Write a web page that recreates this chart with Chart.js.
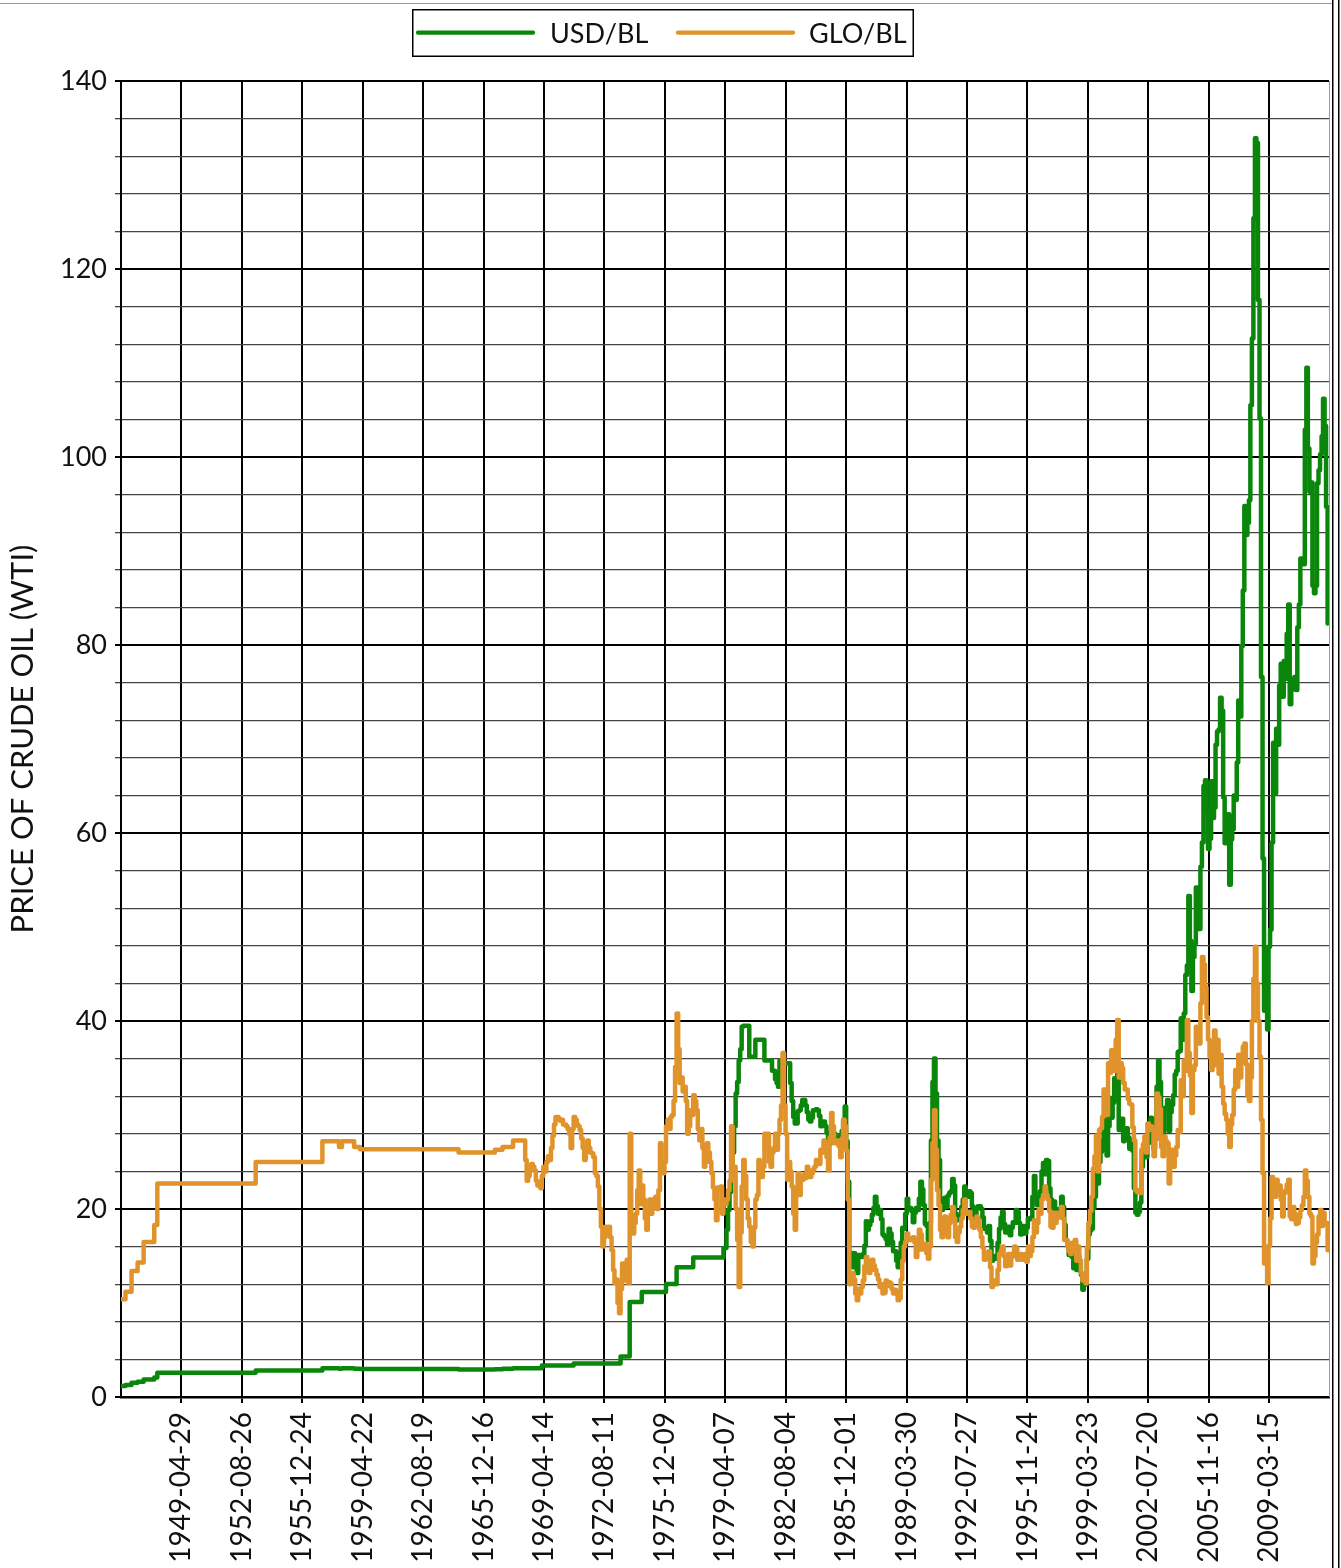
<!DOCTYPE html>
<html>
<head>
<meta charset="utf-8">
<script src="https://cdn.jsdelivr.net/npm/chart.js@4.4.1/dist/chart.umd.min.js"></script>
<style>
html,body{margin:0;padding:0;background:#fff;}
canvas{display:block;}
</style>
</head>
<body>
<canvas id="c" width="1341" height="1568"></canvas>
<script>
const seriesLabels = ['USD/BL', 'GLO/BL'];
const yTitle = 'PRICE OF CRUDE OIL (WTI)';

const tickLabels = ['1949-04-29','1952-08-26','1955-12-24','1959-04-22','1962-08-19','1965-12-16','1969-04-14',
  '1972-08-11','1975-12-09','1979-04-07','1982-08-04','1985-12-01','1989-03-30','1992-07-27','1995-11-24',
  '1999-03-23','2002-07-20','2005-11-16','2009-03-15'];

const dates = [
'1946-01','1946-04','1946-08','1946-12','1947-04','1947-11','1948-01','1953-06','1957-02','1958-01','1958-03','1958-11','1959-03','1964-08','1966-08','1967-01','1967-08',
'1968-01','1968-02','1968-03','1968-04','1968-05','1968-06','1968-07','1968-08','1968-09','1968-10','1968-11','1968-12',
'1969-01','1969-02','1969-03','1969-04','1969-05','1969-06','1969-07','1969-08','1969-09','1969-10','1969-11','1969-12',
'1970-01','1970-02','1970-03','1970-04','1970-05','1970-06','1970-07','1970-08','1970-09','1970-10','1970-11','1970-12',
'1971-01','1971-02','1971-03','1971-04','1971-05','1971-06','1971-07','1971-08','1971-09','1971-10','1971-11','1971-12',
'1972-01','1972-02','1972-03','1972-04','1972-05','1972-06','1972-07','1972-08','1972-09','1972-10','1972-11','1972-12',
'1973-01','1973-02','1973-03','1973-04','1973-05','1973-06','1973-07','1973-08','1973-09','1973-10','1973-11','1973-12',
'1974-01','1974-02','1974-03','1974-04','1974-05','1974-06','1974-07','1974-08','1974-09','1974-10','1974-11','1974-12',
'1975-01','1975-02','1975-03','1975-04','1975-05','1975-06','1975-07','1975-08','1975-09','1975-10','1975-11','1975-12',
'1976-01','1976-02','1976-03','1976-04','1976-05','1976-06','1976-07','1976-08','1976-09','1976-10','1976-11','1976-12',
'1977-01','1977-02','1977-03','1977-04','1977-05','1977-06','1977-07','1977-08','1977-09','1977-10','1977-11','1977-12',
'1978-01','1978-02','1978-03','1978-04','1978-05','1978-06','1978-07','1978-08','1978-09','1978-10','1978-11','1978-12',
'1979-01','1979-02','1979-03','1979-04','1979-05','1979-06','1979-07','1979-08','1979-09','1979-10','1979-11','1979-12',
'1980-01','1980-02','1980-03','1980-04','1980-05','1980-06','1980-07','1980-08','1980-09','1980-10','1980-11','1980-12',
'1981-01','1981-02','1981-03','1981-04','1981-05','1981-06','1981-07','1981-08','1981-09','1981-10','1981-11','1981-12',
'1982-01','1982-02','1982-03','1982-04','1982-05','1982-06','1982-07','1982-08','1982-09','1982-10','1982-11','1982-12',
'1983-01','1983-02','1983-03','1983-04','1983-05','1983-06','1983-07','1983-08','1983-09','1983-10','1983-11','1983-12',
'1984-01','1984-02','1984-03','1984-04','1984-05','1984-06','1984-07','1984-08','1984-09','1984-10','1984-11','1984-12',
'1985-01','1985-02','1985-03','1985-04','1985-05','1985-06','1985-07','1985-08','1985-09','1985-10','1985-11','1985-12',
'1986-01','1986-02','1986-03','1986-04','1986-05','1986-06','1986-07','1986-08','1986-09','1986-10','1986-11','1986-12',
'1987-01','1987-02','1987-03','1987-04','1987-05','1987-06','1987-07','1987-08','1987-09','1987-10','1987-11','1987-12',
'1988-01','1988-02','1988-03','1988-04','1988-05','1988-06','1988-07','1988-08','1988-09','1988-10','1988-11','1988-12',
'1989-01','1989-02','1989-03','1989-04','1989-05','1989-06','1989-07','1989-08','1989-09','1989-10','1989-11','1989-12',
'1990-01','1990-02','1990-03','1990-04','1990-05','1990-06','1990-07','1990-08','1990-09','1990-10','1990-11','1990-12',
'1991-01','1991-02','1991-03','1991-04','1991-05','1991-06','1991-07','1991-08','1991-09','1991-10','1991-11','1991-12',
'1992-01','1992-02','1992-03','1992-04','1992-05','1992-06','1992-07','1992-08','1992-09','1992-10','1992-11','1992-12',
'1993-01','1993-02','1993-03','1993-04','1993-05','1993-06','1993-07','1993-08','1993-09','1993-10','1993-11','1993-12',
'1994-01','1994-02','1994-03','1994-04','1994-05','1994-06','1994-07','1994-08','1994-09','1994-10','1994-11','1994-12',
'1995-01','1995-02','1995-03','1995-04','1995-05','1995-06','1995-07','1995-08','1995-09','1995-10','1995-11','1995-12',
'1996-01','1996-02','1996-03','1996-04','1996-05','1996-06','1996-07','1996-08','1996-09','1996-10','1996-11','1996-12',
'1997-01','1997-02','1997-03','1997-04','1997-05','1997-06','1997-07','1997-08','1997-09','1997-10','1997-11','1997-12',
'1998-01','1998-02','1998-03','1998-04','1998-05','1998-06','1998-07','1998-08','1998-09','1998-10','1998-11','1998-12',
'1999-01','1999-02','1999-03','1999-04','1999-05','1999-06','1999-07','1999-08','1999-09','1999-10','1999-11','1999-12',
'2000-01','2000-02','2000-03','2000-04','2000-05','2000-06','2000-07','2000-08','2000-09','2000-10','2000-11','2000-12',
'2001-01','2001-02','2001-03','2001-04','2001-05','2001-06','2001-07','2001-08','2001-09','2001-10','2001-11','2001-12',
'2002-01','2002-02','2002-03','2002-04','2002-05','2002-06','2002-07','2002-08','2002-09','2002-10','2002-11','2002-12',
'2003-01','2003-02','2003-03','2003-04','2003-05','2003-06','2003-07','2003-08','2003-09','2003-10','2003-11','2003-12',
'2004-01','2004-02','2004-03','2004-04','2004-05','2004-06','2004-07','2004-08','2004-09','2004-10','2004-11','2004-12',
'2005-01','2005-02','2005-03','2005-04','2005-05','2005-06','2005-07','2005-08','2005-09','2005-10','2005-11','2005-12',
'2006-01','2006-02','2006-03','2006-04','2006-05','2006-06','2006-07','2006-08','2006-09','2006-10','2006-11','2006-12',
'2007-01','2007-02','2007-03','2007-04','2007-05','2007-06','2007-07','2007-08','2007-09','2007-10','2007-11','2007-12',
'2008-01','2008-02','2008-03','2008-04','2008-05','2008-06','2008-07','2008-08','2008-09','2008-10','2008-11','2008-12',
'2009-01','2009-02','2009-03','2009-04','2009-05','2009-06','2009-07','2009-08','2009-09','2009-10','2009-11','2009-12',
'2010-01','2010-02','2010-03','2010-04','2010-05','2010-06','2010-07','2010-08','2010-09','2010-10','2010-11','2010-12',
'2011-01','2011-02','2011-03','2011-04','2011-05','2011-06','2011-07','2011-08','2011-09','2011-10','2011-11','2011-12',
'2012-01','2012-02','2012-03','2012-04','2012-05','2012-06'
];

const usdValues = [
1.17,1.27,1.52,1.62,1.87,2.07,2.57,2.82,3.07,3.0,3.07,3.0,2.97,2.92,2.95,3.0,3.07,
3.07,3.07,3.07,3.07,3.07,3.07,3.07,3.07,3.07,3.07,3.07,3.07,
3.07,3.07,3.35,3.35,3.35,3.35,3.35,3.35,3.35,3.35,3.35,3.35,
3.35,3.35,3.35,3.35,3.35,3.35,3.35,3.35,3.35,3.35,3.35,3.56,
3.56,3.56,3.56,3.56,3.56,3.56,3.56,3.56,3.56,3.56,3.56,3.56,
3.56,3.56,3.56,3.56,3.56,3.56,3.56,3.56,3.56,3.56,3.56,3.56,
3.56,3.56,3.56,3.56,3.56,3.56,4.31,4.31,4.31,4.31,4.31,4.31,
10.11,10.11,10.11,10.11,10.11,10.11,10.11,10.11,11.16,11.16,11.16,11.16,
11.16,11.16,11.16,11.16,11.16,11.16,11.16,11.16,11.16,11.16,11.16,11.16,
12.03,12.03,12.03,12.03,12.03,12.03,12.03,13.8,13.8,13.8,13.8,13.8,
13.8,13.8,13.8,13.8,13.8,13.8,14.85,14.85,14.85,14.85,14.85,14.85,
14.85,14.85,14.85,14.85,14.85,14.85,14.85,14.85,14.85,14.85,14.85,14.85,
14.85,14.85,15.85,15.85,17.8,19.9,21.8,23.8,26.0,28.8,32.3,33.5,
35.8,37.0,39.4,39.5,39.5,39.5,39.5,36.2,36.2,36.2,36.2,38.0,
38.0,38.0,38.0,38.0,38.0,35.8,35.8,35.8,35.8,35.8,34.7,34.7,
33.8,33.4,33.0,35.8,35.8,35.5,35.5,35.5,35.5,35.5,33.4,31.5,
29.8,29.1,29.1,30.4,30.5,31.0,31.6,31.6,31.0,30.3,29.5,29.3,
29.7,30.5,30.5,30.6,30.5,29.9,28.8,29.1,29.3,28.8,28.1,27.3,
27.0,27.3,28.0,28.0,27.6,27.1,27.0,27.8,28.3,29.5,30.9,27.2,
22.9,15.4,14.0,13.8,15.3,14.5,13.2,15.1,14.9,14.9,15.2,16.1,
18.7,17.8,18.3,18.7,19.4,20.1,21.3,20.3,19.5,19.9,18.9,17.3,
17.1,16.8,16.2,17.9,17.4,16.5,15.5,15.5,14.5,13.8,14.1,16.4,
18.0,17.9,19.5,21.1,20.1,20.1,19.8,18.6,19.6,20.1,19.9,21.1,
22.9,22.1,20.4,18.4,18.2,16.7,18.5,27.3,33.5,36.0,32.3,27.3,
25.2,20.5,19.9,20.8,21.2,20.2,21.4,21.7,21.9,23.2,22.5,19.5,
18.8,19.0,18.9,20.2,21.0,22.4,21.8,21.3,21.9,21.7,20.3,19.4,
19.0,20.1,20.3,20.3,20.0,19.1,17.9,18.0,17.5,18.2,16.6,14.5,
15.0,14.8,14.7,16.4,17.9,19.1,19.7,18.4,17.5,17.7,18.1,17.2,
18.0,18.6,18.5,19.9,19.7,18.5,17.3,18.0,18.2,17.4,18.0,19.0,
18.9,19.1,21.3,23.5,21.2,20.4,21.3,21.9,24.0,24.9,23.7,25.2,
25.1,22.2,21.0,19.7,20.8,19.3,19.7,20.0,19.8,21.3,20.2,18.3,
16.7,16.1,15.1,15.4,14.9,13.7,14.2,13.5,15.0,14.5,13.0,11.4,
12.5,12.0,14.7,17.3,17.7,17.9,20.1,21.3,23.8,22.7,25.0,26.1,
27.3,29.4,29.8,25.7,28.8,31.8,29.7,31.3,33.9,33.1,34.4,28.4,
29.6,29.6,27.2,27.5,28.6,27.6,26.4,27.4,26.2,22.2,19.6,19.4,
19.7,20.7,24.5,26.2,27.0,25.5,27.0,28.4,29.7,28.8,26.4,29.5,
33.0,35.8,33.5,28.2,28.1,30.7,30.8,31.6,28.3,30.3,31.1,32.1,
34.3,34.7,36.7,36.8,40.3,38.0,40.8,44.9,45.9,53.3,48.5,43.2,
46.8,48.2,54.2,53.0,49.8,56.4,59.0,65.0,65.6,62.3,58.3,59.4,
65.5,61.6,62.7,69.4,70.8,71.0,74.4,73.0,63.8,58.9,59.1,62.0,
54.5,59.3,60.4,64.0,63.5,67.5,74.1,72.4,79.9,85.8,94.8,91.7,
93.0,95.4,105.5,112.6,125.4,133.9,133.4,116.7,104.1,76.6,57.3,41.1,
41.7,39.1,47.9,49.7,59.0,69.6,64.2,71.1,69.4,75.7,78.0,74.5,
78.3,76.4,81.2,84.3,73.7,75.3,76.3,76.6,75.2,81.9,84.3,89.2,
89.2,88.6,102.9,109.5,100.9,96.3,97.3,86.3,85.5,86.3,97.2,98.6,
100.3,102.2,106.2,103.3,94.7,82.3
];

const gloValues = [
10.4,11.2,13.4,14.3,16.5,18.3,22.7,25.0,27.2,26.6,27.2,26.6,26.35,26.0,26.3,26.6,27.3,
27.3,27.3,27.3,25.2,23.0,23.5,24.5,24.8,24.5,24.1,23.0,22.5,
22.5,22.2,23.5,24.5,24.0,25.0,25.6,25.2,26.5,27.8,29.0,29.8,
29.8,29.6,29.4,29.5,29.0,29.0,28.8,28.5,28.0,26.5,28.5,29.8,
29.5,29.0,28.8,28.4,27.5,26.5,25.2,26.0,27.3,26.5,26.0,25.9,
25.5,23.8,23.5,22.4,20.0,18.1,16.0,17.0,18.1,17.8,18.1,17.0,
15.6,13.5,12.1,12.5,10.0,8.9,11.5,14.2,13.0,12.4,14.6,12.1,
28.0,19.0,17.4,18.5,19.5,22.0,24.1,20.5,22.5,21.0,19.0,17.8,
20.0,21.0,19.5,21.0,20.5,21.3,20.0,22.0,27.0,24.5,23.8,25.0,
28.8,29.5,28.5,29.8,30.0,31.5,35.1,40.8,37.0,33.4,34.0,32.5,
33.0,31.5,28.0,28.8,30.5,30.0,32.1,31.5,30.5,28.5,27.3,28.5,
26.5,24.5,25.0,27.0,26.0,25.0,23.8,22.3,21.0,18.8,22.3,22.0,
22.4,19.5,21.0,20.5,21.0,22.0,23.0,28.8,24.0,24.5,20.0,16.7,
11.7,17.5,22.4,25.2,23.5,21.0,19.0,18.1,16.5,16.0,18.0,21.0,
21.5,25.2,23.5,23.4,24.5,28.0,27.0,28.0,25.0,24.5,26.0,26.5,
28.0,26.3,28.0,29.5,31.0,36.6,31.0,28.0,23.1,25.0,24.0,22.4,
19.5,17.8,21.5,23.8,21.5,23.3,23.1,23.7,23.3,24.5,24.1,23.4,
23.8,24.2,24.5,25.2,25.0,24.8,26.3,26.0,27.3,26.3,25.5,24.1,
27.6,30.2,28.8,27.0,27.1,27.3,26.7,25.5,27.5,29.5,28.8,26.2,
21.0,12.0,12.5,13.2,12.5,11.0,10.3,11.5,11.0,11.7,12.4,13.9,
14.9,13.8,13.2,13.5,14.6,14.0,13.5,13.0,12.5,11.7,12.0,11.0,
11.1,12.4,11.8,12.2,12.1,11.5,11.0,11.4,11.0,10.3,10.5,12.5,
14.5,16.0,16.5,17.4,16.8,16.7,16.9,17.0,16.5,14.9,15.6,17.8,
17.3,15.7,16.1,16.3,15.3,14.7,16.0,23.1,27.0,30.5,26.3,22.0,
20.4,17.8,17.0,18.2,19.2,17.5,17.0,18.5,19.4,20.2,19.0,17.0,
16.5,17.5,18.1,19.0,19.9,21.0,19.5,19.6,19.7,19.0,18.1,18.0,
18.5,19.2,18.8,17.8,17.0,15.9,14.6,14.7,15.2,15.5,13.8,11.7,
12.0,12.4,12.0,13.5,15.2,15.5,16.0,15.0,13.9,14.1,15.2,14.0,
14.9,15.3,16.0,15.8,14.6,14.8,15.2,14.6,14.8,15.2,14.4,16.0,
15.0,15.5,17.0,18.8,17.5,18.5,19.9,19.5,21.0,21.5,22.4,21.5,
21.0,19.8,18.1,18.0,19.6,18.5,19.6,19.1,19.5,20.2,19.0,16.7,
16.7,16.0,15.5,15.2,16.4,15.7,16.7,14.5,16.0,14.5,13.2,12.4,
13.0,12.1,15.9,18.5,19.8,21.3,24.3,25.6,27.8,24.0,28.4,28.6,
29.8,32.7,32.3,30.0,35.5,34.5,36.9,35.3,34.7,38.0,40.1,34.0,
35.5,35.0,33.4,32.7,32.7,31.7,31.2,31.1,28.7,27.3,22.0,21.8,
22.0,21.7,26.3,26.9,27.7,26.0,29.1,28.4,28.8,28.4,25.6,27.4,
32.3,31.9,30.6,26.6,25.6,27.7,27.2,27.0,22.7,24.8,26.3,24.5,
25.7,26.6,28.4,28.2,33.7,32.0,35.8,34.7,40.1,36.6,34.2,30.2,
34.8,35.3,39.4,38.0,37.6,41.9,46.8,46.0,43.6,40.4,38.0,36.2,
34.8,35.5,39.0,35.3,38.0,34.4,36.4,33.0,31.2,30.1,29.5,28.0,
26.6,29.0,30.0,32.7,34.8,33.0,36.4,34.0,36.2,37.3,37.6,35.4,
32.0,31.5,34.0,40.0,44.5,47.9,44.0,40.0,36.2,29.5,23.8,14.2,
14.5,12.1,16.1,19.0,23.4,22.8,21.3,23.1,22.0,22.5,21.0,19.2,
21.7,22.0,22.6,23.1,19.2,18.9,20.2,19.5,18.4,18.5,19.1,19.9,
20.4,21.3,24.1,23.0,21.3,19.5,19.2,14.2,15.0,16.4,17.3,19.2,
19.9,18.2,19.6,18.5,18.5,15.6
];

const axisStart = '1946-01-01';
const axisEnd = '2012-06-29';

const GREEN = '#0a860a';
const ORANGE = '#e0932a';
const FONT = 'Lato, "Open Sans", "DejaVu Sans", sans-serif';

const DAY = 86400000;
function toDay(s) {
  const p = s.split('-').map(Number);
  return Date.UTC(p[0], p[1] - 1, p[2] || 1) / DAY;
}
const tickValues = tickLabels.map(toDay);

const boxLegend = {
  id: 'boxLegend',
  afterDraw(chart) {
    const c = chart.ctx;
    c.save();
    c.fillStyle = '#fff';
    c.fillRect(412, 9, 502, 48);
    c.strokeStyle = '#000';
    c.lineWidth = 1.5;
    c.strokeRect(412.75, 9.75, 500.5, 46.5);
    const ds = chart.data.datasets;
    const items = [{x0: 418, x1: 533, tx: 550}, {x0: 678, x1: 793, tx: 809}];
    c.font = '27px ' + FONT;
    c.textBaseline = 'alphabetic';
    c.textAlign = 'left';
    items.forEach((it, i) => {
      c.strokeStyle = ds[i].borderColor;
      c.lineWidth = 4.3;
      c.lineCap = 'round';
      c.beginPath();
      c.moveTo(it.x0, 32.7);
      c.lineTo(it.x1, 32.7);
      c.stroke();
      c.fillStyle = '#111';
      c.fillText(ds[i].label, it.tx, 43);
    });
    c.restore();
  }
};

const frame = {
  id: 'frame',
  afterDraw(chart) {
    const c = chart.ctx, a = chart.chartArea;
    c.save();
    c.strokeStyle = '#9a9a9a';
    c.lineWidth = 1;
    c.beginPath();
    c.moveTo(a.right + 0.5, a.top);
    c.lineTo(a.right + 0.5, a.bottom);
    c.moveTo(0, 3.5);
    c.lineTo(1333, 3.5);
    c.stroke();
    c.strokeStyle = '#000';
    c.lineWidth = 1.5;
    c.beginPath();
    c.moveTo(1332.75, 0); c.lineTo(1332.75, 1568);
    c.moveTo(1338.75, 0); c.lineTo(1338.75, 1568);
    c.stroke();
    c.restore();
  }
};

new Chart(document.getElementById('c'), {
  type: 'line',
  data: {
    datasets: [
      {
        label: seriesLabels[0],
        data: dates.map((d, i) => ({x: toDay(d), y: usdValues[i]})),
        borderColor: GREEN, backgroundColor: GREEN,
        borderWidth: 4.5, pointRadius: 0, stepped: true, fill: false,
        borderJoinStyle: 'round', borderCapStyle: 'round', order: 2
      },
      {
        label: seriesLabels[1],
        data: dates.map((d, i) => ({x: toDay(d), y: gloValues[i]})),
        borderColor: ORANGE, backgroundColor: ORANGE,
        borderWidth: 4.5, pointRadius: 0, stepped: true, fill: false,
        borderJoinStyle: 'round', borderCapStyle: 'round', order: 1
      }
    ]
  },
  options: {
    responsive: false,
    animation: false,
    devicePixelRatio: 1,
    layout: {padding: {top: 81, right: 12, left: 0, bottom: 0}},
    plugins: {legend: {display: false}, tooltip: {enabled: false}},
    scales: {
      x: {
        type: 'linear',
        min: toDay(axisStart),
        max: toDay(axisEnd),
        afterBuildTicks: s => { s.ticks = tickValues.map(v => ({value: v})); },
        afterFit: s => { s.height = 171; },
        ticks: {
          autoSkip: false, minRotation: 90, maxRotation: 90,
          padding: 9, color: '#111',
          font: {family: FONT, size: 28},
          callback: v => { const i = tickValues.indexOf(v); return i >= 0 ? tickLabels[i] : ''; }
        },
        grid: {color: '#000', lineWidth: 2, tickLength: 6},
        border: {display: true, color: '#000', width: 2.5}
      },
      y: {
        min: 0, max: 140,
        afterFit: s => { s.width = 121; },
        ticks: {
          stepSize: 4, autoSkip: false, padding: 8, color: '#111',
          font: {family: FONT, size: 27},
          callback: v => (v % 20 === 0 ? String(v) : '')
        },
        grid: {
          color: c => (c.tick && c.tick.value % 20 === 0 ? '#000' : '#444'),
          lineWidth: c => (c.tick && c.tick.value % 20 === 0 ? 2 : 1.3),
          tickLength: 6
        },
        border: {display: true, color: '#000', width: 2},
        title: {
          display: true, text: yTitle, color: '#111',
          font: {family: FONT, size: 31},
          padding: {top: 4, bottom: 0}
        }
      }
    }
  },
  plugins: [boxLegend, frame]
});
</script>
</body>
</html>
